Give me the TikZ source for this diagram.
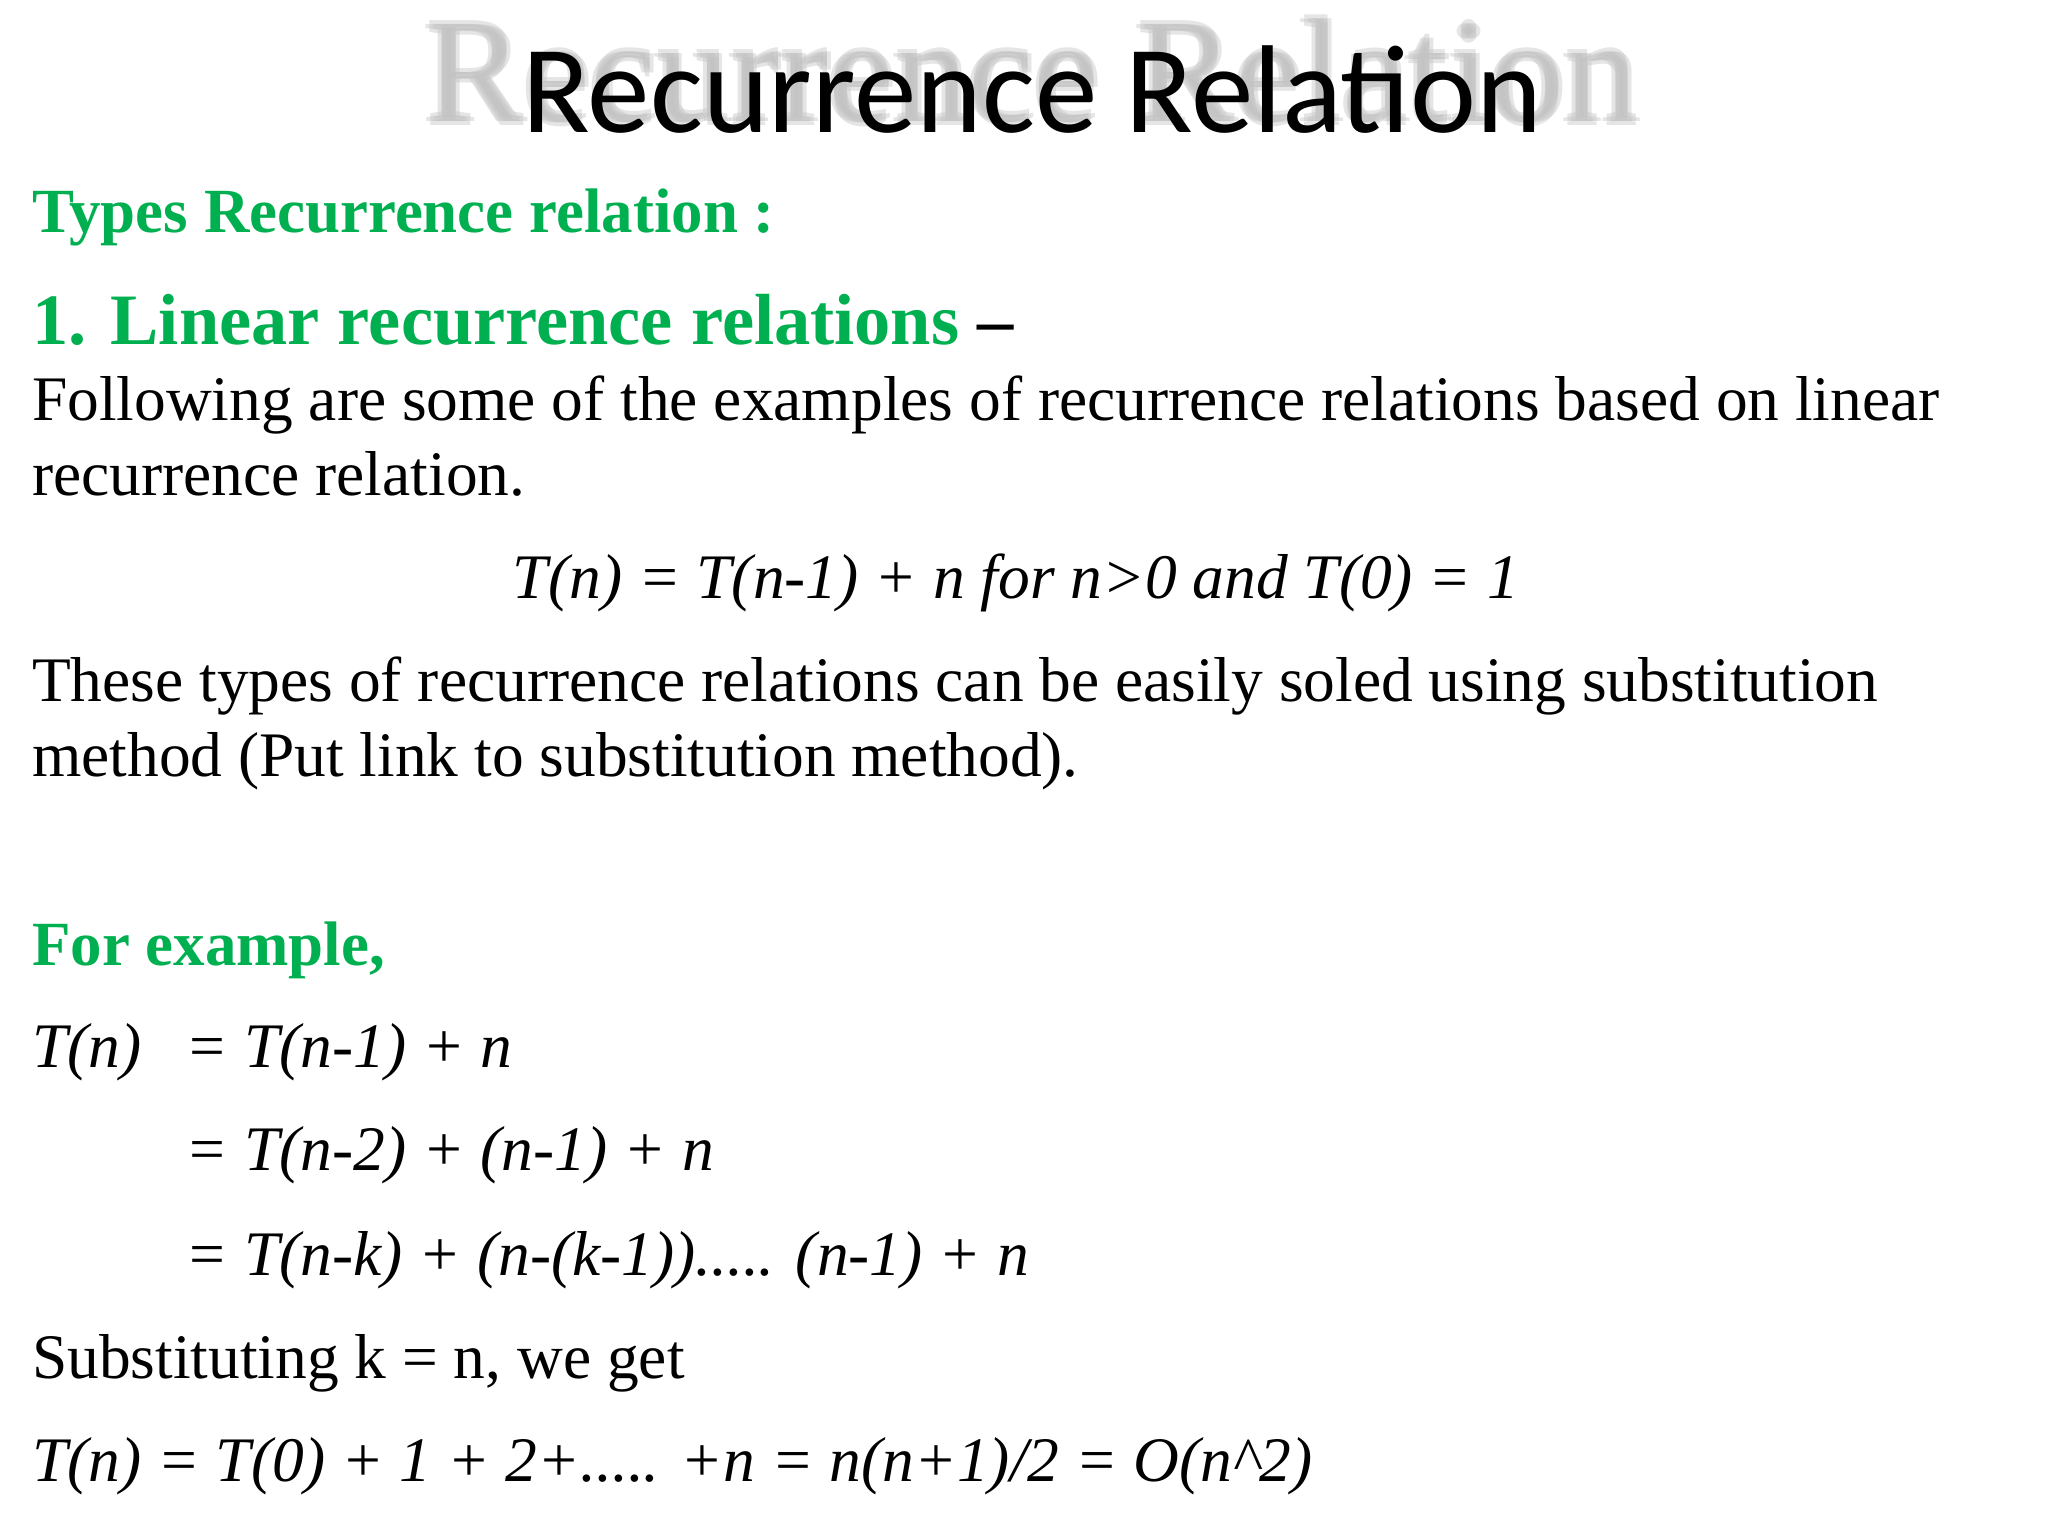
\documentclass[tikz,border=0pt]{standalone}
\usepackage{fontspec}
\setmainfont{Liberation Serif}
\newfontfamily\titlefont{Carlito}
\definecolor{hgreen}{RGB}{0,176,80}
\begin{document}
\begin{tikzpicture}[x=0.5pt,y=-0.5pt,
  txt/.style={anchor=base west,inner sep=0pt,font=\fontsize{24}{28}\selectfont},
  itx/.style={txt,font=\fontsize{24}{28}\selectfont\itshape},
  head/.style={anchor=base west,inner sep=0pt,text=hgreen,font=\fontsize{23.8}{28}\selectfont\bfseries}]
\useasboundingbox (0,0) rectangle (1550,1162);
\foreach \dx/\dy [count=\i] in {-3/0,3/0,0/-3,0/3,0/0}
  \node[anchor=base,inner sep=0pt,text=black!25,opacity=0.4,font=\fontsize{56}{60}\selectfont] (sh\i) at (781+\dx,92+\dy) {Recurrence Relation};
\node[anchor=base,inner sep=0pt,font=\titlefont\fontsize{47.3}{52}\selectfont] (title) at (781,100) {Recurrence Relation};
\node[head] (types) at (24,176) {Types Recurrence relation :};
\node[head,font=\fontsize{27.4}{32}\selectfont\bfseries] (lin) at (24,261) {1. Linear recurrence relations \textcolor{black}{–}};
\node[txt] (f1) at (24,318) {Following are some of the examples of recurrence relations based on linear};
\node[txt] (f2) at (24,375) {recurrence relation.};
\node[itx,anchor=base] (eq) at (769,453) {T(n) = T(n-1) + n for n>0 and T(0) = 1};
\node[txt] (t1) at (24,531) {These types of recurrence relations can be easily soled using substitution};
\node[txt] (t2) at (24,588) {method (Put link to substitution method).};
\node[head] (fe) at (24,731) {For example,};
\node[itx] (tn) at (24,808) {T(n)};
\node[itx] (e1) at (140,808) {= T(n-1) + n};
\node[itx] (e2) at (140,886) {= T(n-2) + (n-1) + n};
\node[itx] (e3) at (140,965) {= T(n-k) + (n-(k-1))..... (n-1) + n};
\node[txt] (sub) at (24,1043) {Substituting k = n, we get};
\node[itx] (fin) at (24,1121) {T(n) = T(0) + 1 + 2+..... +n = n(n+1)/2 = O(n\^{}2)};
\end{tikzpicture}
\end{document}
